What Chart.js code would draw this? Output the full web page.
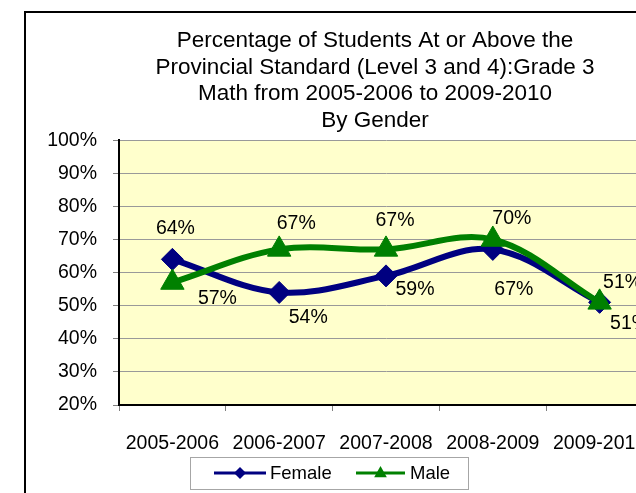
<!DOCTYPE html>
<html>
<head>
<meta charset="utf-8">
<script src="https://cdn.jsdelivr.net/npm/chart.js@4.4.0/dist/chart.umd.min.js"></script>
<style>
  html, body { margin: 0; padding: 0; background: #fff; overflow: hidden; }
  body { width: 636px; height: 493px; position: relative; }
  #frame { position: absolute; left: 24px; top: 11px; width: 700px; height: 500px; border: 2px solid #000; }
  #chart { display: block; }
</style>
</head>
<body>
<div id="frame"><canvas id="chart" width="700" height="500"></canvas></div>
<script>
const years = ['2005-2006', '2006-2007', '2007-2008', '2008-2009', '2009-2010'];
const female = [64, 54, 59, 67, 51];
const male = [57, 67, 67, 70, 51];
const yMin = 20;
const yMax = 100;
const yStep = 10;

const titleLines = [
  'Percentage of Students At or Above the',
  'Provincial Standard (Level 3 and 4):Grade 3',
  'Math from 2005-2006 to 2009-2010',
  'By Gender'
];

const FONT = "'Liberation Sans', Arial, sans-serif";
const NAVY = '#000080';
const GREEN = '#008000';

// where each value label sits relative to its point, in px
const femaleLabelPos = [[3, -31], [29, 25], [29, 14], [21, 40], [23, -20]];
const maleLabelPos = [[45, 16], [17, -26], [9, -29], [19, -21], [30, 21]];

// light yellow plot area
const plotFill = {
  id: 'plotFill',
  beforeDraw(chart) {
    const { ctx, chartArea: a } = chart;
    ctx.save();
    ctx.fillStyle = '#FFFFCC';
    ctx.fillRect(a.left, a.top, a.right - a.left, a.bottom - a.top);
    ctx.restore();
  }
};

// percentage text next to every marker
const valueLabels = {
  id: 'valueLabels',
  afterDatasetsDraw(chart) {
    const ctx = chart.ctx;
    ctx.save();
    ctx.font = '19.5px ' + FONT;
    ctx.fillStyle = '#000';
    ctx.textAlign = 'center';
    ctx.textBaseline = 'middle';
    chart.data.datasets.forEach((ds, i) => {
      const meta = chart.getDatasetMeta(i);
      meta.data.forEach((pt, j) => {
        const [dx, dy] = ds.labelPos[j];
        ctx.fillText(ds.data[j] + '%', pt.x + dx, pt.y + dy);
      });
    });
    ctx.restore();
  }
};

function diamond(ctx, x, y, r) {
  ctx.beginPath();
  ctx.moveTo(x - r, y);
  ctx.lineTo(x, y - r);
  ctx.lineTo(x + r, y);
  ctx.lineTo(x, y + r);
  ctx.closePath();
  ctx.fill();
}

function triangle(ctx, x, y, r) {
  ctx.beginPath();
  ctx.moveTo(x, y - r);
  ctx.lineTo(x + r * 0.9, y + r * 0.6);
  ctx.lineTo(x - r * 0.9, y + r * 0.6);
  ctx.closePath();
  ctx.fill();
}

// boxed legend under the axis labels
const boxLegend = {
  id: 'boxLegend',
  afterDraw(chart) {
    const { ctx, chartArea: a } = chart;
    const left = a.left + 71;
    const top = a.bottom + 52;
    const cy = top + 16;
    ctx.save();
    ctx.strokeStyle = '#a6a6a6';
    ctx.lineWidth = 1;
    ctx.strokeRect(left + 0.5, top + 0.5, 278, 32);

    const items = [
      { ds: chart.data.datasets[0], x0: 24, x1: 76, mark: diamond, r: 6, tx: 80 },
      { ds: chart.data.datasets[1], x0: 166, x1: 215, mark: triangle, r: 7, tx: 220 }
    ];
    ctx.font = '18.5px ' + FONT;
    ctx.textBaseline = 'middle';
    items.forEach(it => {
      ctx.strokeStyle = it.ds.borderColor;
      ctx.fillStyle = it.ds.borderColor;
      ctx.lineWidth = 3;
      ctx.beginPath();
      ctx.moveTo(left + it.x0, cy);
      ctx.lineTo(left + it.x1, cy);
      ctx.stroke();
      it.mark(ctx, left + (it.x0 + it.x1) / 2, cy, it.r);
      ctx.fillStyle = '#000';
      ctx.fillText(it.ds.label, left + it.tx, cy + 1);
    });
    ctx.restore();
  }
};

new Chart(document.getElementById('chart'), {
  type: 'line',
  data: {
    labels: years,
    datasets: [
      {
        label: 'Female',
        data: female,
        labelPos: femaleLabelPos,
        borderColor: NAVY,
        backgroundColor: NAVY,
        borderWidth: 6,
        tension: 0.35,
        pointStyle: 'rectRot',
        pointRadius: 11,
        pointBorderWidth: 1,
        order: 2
      },
      {
        label: 'Male',
        data: male,
        labelPos: maleLabelPos,
        borderColor: GREEN,
        backgroundColor: GREEN,
        borderWidth: 6,
        tension: 0.35,
        pointStyle: 'triangle',
        pointRadius: 13.5,
        pointBorderWidth: 1,
        order: 1
      }
    ]
  },
  options: {
    responsive: false,
    animation: false,
    layout: { padding: { left: 0, right: 2, top: 0, bottom: 63 } },
    plugins: {
      legend: { display: false },
      tooltip: { enabled: false },
      title: {
        display: true,
        text: titleLines,
        color: '#000',
        font: { family: FONT, size: 22.5, weight: 'normal', lineHeight: 1.185 },
        padding: { top: 14.5, bottom: 6 }
      }
    },
    scales: {
      x: {
        offset: true,
        grid: { offset: true, drawOnChartArea: false, tickLength: 6, tickColor: '#808080' },
        border: { color: '#000', width: 2 },
        ticks: { color: '#000', font: { family: FONT, size: 19.5 }, padding: 21, maxRotation: 0, autoSkip: false },
        afterFit: s => { s.height = 45; }
      },
      y: {
        min: yMin,
        max: yMax,
        ticks: {
          stepSize: yStep,
          color: '#000',
          font: { family: FONT, size: 19.5 },
          padding: 16,
          callback: v => v + '%'
        },
        grid: { color: '#999999', tickLength: 6, tickColor: '#808080' },
        border: { color: '#000', width: 2 },
        afterFit: s => { s.width = 93; }
      },
      // empty strip on the right so the plot runs past the frame edge
      yRight: {
        position: 'right',
        grid: { display: false },
        border: { display: false },
        ticks: { display: false },
        afterFit: s => { s.width = 71; }
      }
    }
  },
  plugins: [plotFill, valueLabels, boxLegend]
});
</script>
</body>
</html>
